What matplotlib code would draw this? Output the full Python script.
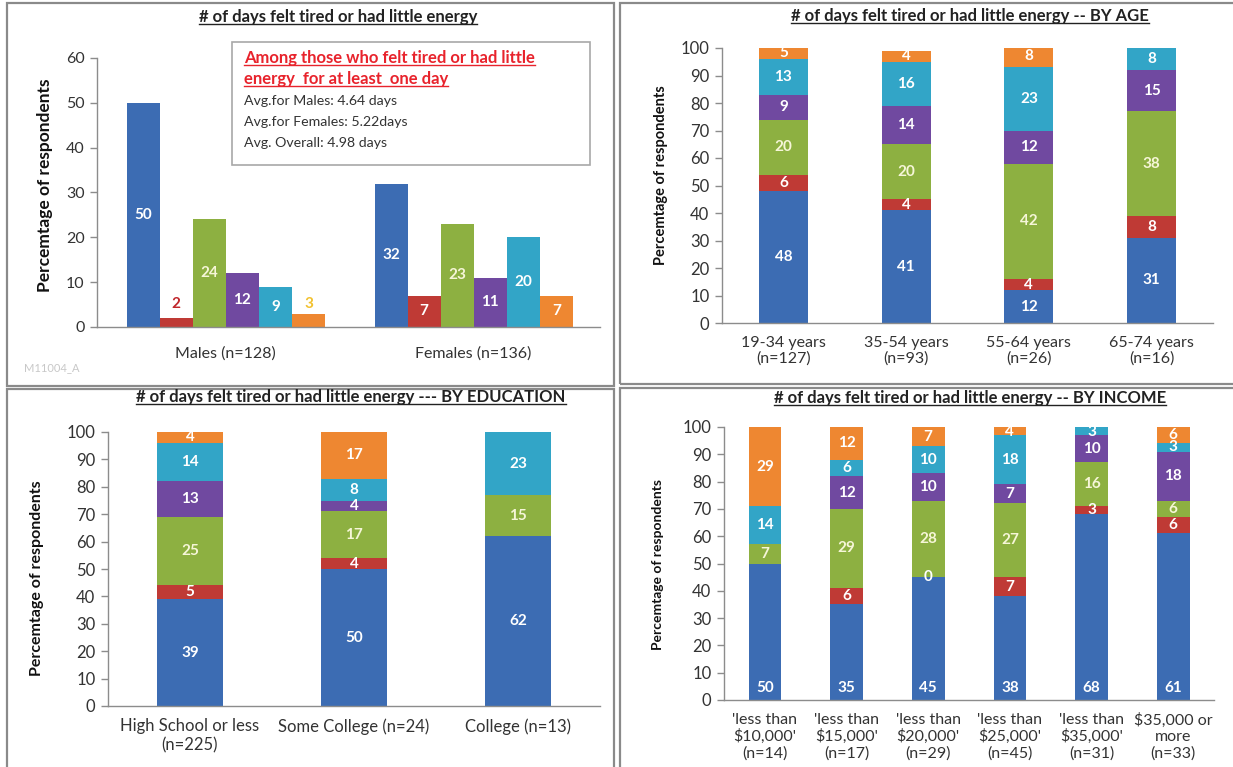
import numpy as np
import matplotlib
matplotlib.use("Agg")
import matplotlib.pyplot as plt
from matplotlib.patches import Rectangle
from matplotlib.lines import Line2D

W, H = 1233, 767
plt.rcParams['font.family'] = ['Lato', 'DejaVu Sans']

SERIES_COLORS = ['#3C6CB3', '#BF3A35', '#8DB041', '#7049A0', '#32A5C7', '#EE8731']
AXIS_GREY = '#8C8C8C'
TEXT_GREY = '#333333'
YLABEL = 'Percemtage of respondents'

# ---- By gender (grouped bars, six series per group)
gender_cats = ['Males (n=128)', 'Females (n=136)']
males = [50, 2, 24, 12, 9, 3]
females = [32, 7, 23, 11, 20, 7]

# ---- By age (stacked; None = segment not present)
age_cats = ['19-34 years\n(n=127)', '35-54 years\n(n=93)', '55-64 years\n(n=26)', '65-74 years\n(n=16)']
age_19_34 = [48, 6, 20, 9, 13, 5]
age_35_54 = [41, 4, 20, 14, 16, 4]
age_55_64 = [12, 4, 42, 12, 23, 8]
age_65_74 = [31, 8, 38, 15, 8, None]

# ---- By education
edu_cats = ['High School or less\n(n=225)', 'Some College (n=24)', 'College (n=13)']
edu_high_school = [39, 5, 25, 13, 14, 4]
edu_some_college = [50, 4, 17, 4, 8, 17]
edu_college = [62, None, 15, None, 23, None]

# ---- By income
inc_cats = ["'less than\n$10,000'\n(n=14)", "'less than\n$15,000'\n(n=17)",
            "'less than\n$20,000'\n(n=29)", "'less than\n$25,000'\n(n=45)",
            "'less than\n$35,000'\n(n=31)", "$35,000 or\nmore\n(n=33)"]
inc_10k = [50, None, 7, None, 14, 29]
inc_15k = [35, 6, 29, 12, 6, 12]
inc_20k = [45, 0, 28, 10, 10, 7]
inc_25k = [38, 7, 27, 7, 18, 4]
inc_35k = [68, 3, 16, 10, 3, None]
inc_35k_more = [61, 6, 6, 18, 3, 6]

fig = plt.figure(figsize=(W / 100, H / 100), dpi=100)
fig.patch.set_facecolor('white')


def px_rect(x0, y0, x1, y1):
    return [x0 / W, 1 - y1 / H, (x1 - x0) / W, (y1 - y0) / H]


def fx(x):
    return x / W


def fy(y):
    return 1 - y / H


def style_axes(ax, ymax, step, ysize=12, xsize=11):
    ax.set_ylim(0, ymax)
    ax.set_yticks(range(0, ymax + 1, step))
    for sp in ('top', 'right'):
        ax.spines[sp].set_visible(False)
    for sp in ('left', 'bottom'):
        ax.spines[sp].set_color(AXIS_GREY)
        ax.spines[sp].set_linewidth(1.0)
    ax.tick_params(axis='y', length=5, width=1, color=AXIS_GREY, labelsize=ysize,
                   labelcolor=TEXT_GREY, pad=4)
    ax.tick_params(axis='x', length=0, labelsize=xsize, labelcolor=TEXT_GREY, pad=9)
    ax.set_facecolor('none')


def label_color(s):
    return '#F6F6D8' if s == 2 else 'white'


def stacked(ax, rows, cats, base_first=False, xsize=11):
    vals = np.array([[np.nan if v is None else v for v in r] for r in rows], dtype=float)
    x = np.arange(len(rows))
    bottom = np.zeros(len(rows))
    for s in range(vals.shape[1]):
        h = np.nan_to_num(vals[:, s])
        ax.bar(x, h, 0.4, bottom=bottom, color=SERIES_COLORS[s], linewidth=0, zorder=2)
        for i in range(len(rows)):
            v = vals[i, s]
            if np.isnan(v):
                continue
            y = bottom[i] + h[i] / 2
            if base_first and s == 0:
                y = 4.5
            ax.text(x[i], min(y, 98.3), f'{int(v)}', ha='center', va='center',
                    color=label_color(s), fontsize=11, fontweight='bold', zorder=3)
        bottom += h
    ax.set_xlim(-0.5, len(rows) - 0.5)
    ax.set_xticks(x)
    ax.set_xticklabels(cats, linespacing=1.2, parse_math=False)
    style_axes(ax, 100, 10, xsize=xsize)


titles = []

# ---------------- Panel 1: grouped bars by gender
ax1 = fig.add_axes(px_rect(97, 58, 600, 327))
gender_rows = np.array([males, females], dtype=float)
bw = 0.8 / 6
xg = np.arange(len(gender_cats))
for s in range(6):
    xs = xg - 0.4 + bw * (s + 0.5)
    ax1.bar(xs, gender_rows[:, s], bw, color=SERIES_COLORS[s], linewidth=0, zorder=2)
    for i in range(len(xg)):
        v = gender_rows[i, s]
        y, col = v / 2, label_color(s)
        if i == 0 and s == 1:
            y, col = 5.2, '#C0262B'
        if i == 0 and s == 5:
            y, col = 5.2, '#F2C12E'
        ax1.text(xs[i], y, f'{int(v)}', ha='center', va='center', color=col,
                 fontsize=11, fontweight='bold', zorder=3)
ax1.set_xlim(-0.52, 1.51)
ax1.set_xticks(xg)
ax1.set_xticklabels(gender_cats)
style_axes(ax1, 60, 10, ysize=11.5, xsize=11.5)
ax1.tick_params(axis='x', pad=14)

titles.append(fig.text(fx(338), fy(17), '# of days felt tired or had little energy',
                       ha='center', va='center', fontsize=12, fontweight='bold', color='#222222'))
fig.text(fx(45), fy(185), YLABEL, rotation=90, ha='center', va='center',
         fontsize=12.5, fontweight='bold', color='#111111')
fig.text(fx(24), fy(368), 'M11004_A', ha='left', va='center', fontsize=8, color='#C8C8C8')

# note box
fig.patches.append(Rectangle((fx(232), fy(165)), fx(590) - fx(232), fy(42) - fy(165),
                             transform=fig.transFigure, facecolor='white',
                             edgecolor='#A8A8A8', linewidth=1.2, zorder=1))
red_lines = ['Among those who felt tired or had little', 'energy  for at least  one day']
for k, line in enumerate(red_lines):
    titles.append(fig.text(fx(244), fy(58 + 21 * k), line, ha='left', va='center',
                           fontsize=12, fontweight='bold', color='#E8232C', zorder=4))
note_lines = ['Avg.for Males: 4.64 days', 'Avg.for Females: 5.22days', 'Avg. Overall: 4.98 days']
for k, line in enumerate(note_lines):
    fig.text(fx(244), fy(101 + 21 * k), line, ha='left', va='center',
             fontsize=10.2, color='#333333', zorder=4)

# ---------------- Panel 2: by age
ax2 = fig.add_axes(px_rect(722, 48, 1213, 323))
stacked(ax2, [age_19_34, age_35_54, age_55_64, age_65_74], age_cats, xsize=11.5)
titles.append(fig.text(fx(970), fy(16), '# of days felt tired or had little energy -- BY AGE',
                       ha='center', va='center', fontsize=12, fontweight='bold', color='#222222'))
fig.text(fx(661), fy(175), YLABEL, rotation=90, ha='center', va='center',
         fontsize=10.5, fontweight='bold', color='#111111')

# ---------------- Panel 3: by education
ax3 = fig.add_axes(px_rect(108, 432, 600, 706))
stacked(ax3, [edu_high_school, edu_some_college, edu_college], edu_cats, xsize=12)
titles.append(fig.text(fx(351), fy(397), '# of days felt tired or had little energy --- BY EDUCATION',
                       ha='center', va='center', fontsize=12, fontweight='bold', color='#222222'))
fig.text(fx(37), fy(578), YLABEL, rotation=90, ha='center', va='center',
         fontsize=11.5, fontweight='bold', color='#111111')

# ---------------- Panel 4: by income
ax4 = fig.add_axes(px_rect(724, 427, 1214, 700))
stacked(ax4, [inc_10k, inc_15k, inc_20k, inc_25k, inc_35k, inc_35k_more], inc_cats,
        base_first=True, xsize=11.5)
titles.append(fig.text(fx(970), fy(398), '# of days felt tired or had little energy -- BY INCOME',
                       ha='center', va='center', fontsize=12, fontweight='bold', color='#222222'))
fig.text(fx(658), fy(565), YLABEL, rotation=90, ha='center', va='center',
         fontsize=10, fontweight='bold', color='#111111')

# panel frames
for (x0, y0, x1, y1) in [(7, 3, 614, 386), (620, 3, 1240, 384),
                         (7, 389, 614, 770), (620, 388, 1240, 770)]:
    fig.patches.append(Rectangle((fx(x0), fy(y1)), fx(x1) - fx(x0), fy(y0) - fy(y1),
                                 transform=fig.transFigure, facecolor='none',
                                 edgecolor='#8A8A8A', linewidth=1.6, zorder=0))

# underline titles and the red note heading
fig.canvas.draw()
renderer = fig.canvas.get_renderer()
inv = fig.transFigure.inverted()
for t in titles:
    bb = t.get_window_extent(renderer)
    (x0, y0), (x1, y1) = inv.transform([(bb.x0, bb.y0), (bb.x1, bb.y1)])
    fig.lines.append(Line2D([x0, x1], [y0 + 0.001, y0 + 0.001], transform=fig.transFigure,
                            color=t.get_color(), linewidth=1.0, zorder=5))

fig.savefig('out.png', dpi=100, facecolor='white')
